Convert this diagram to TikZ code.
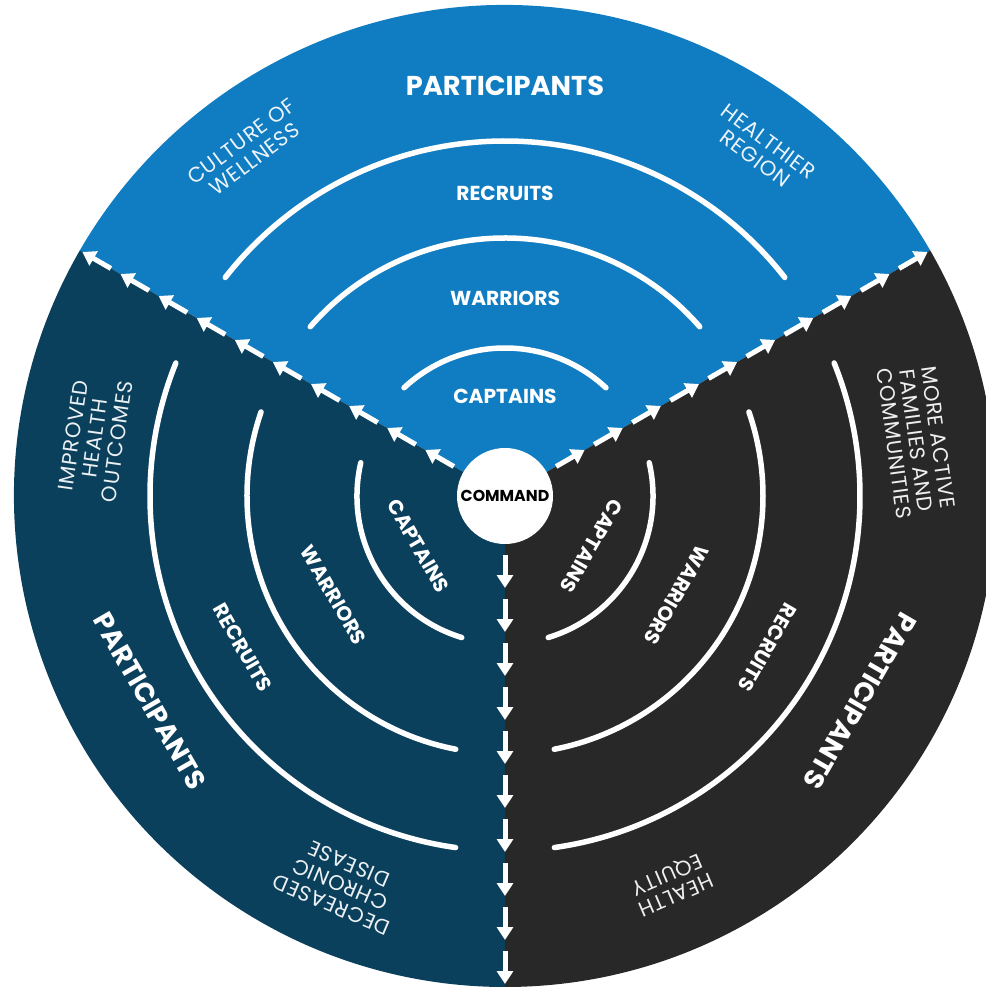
\documentclass[tikz,border=0pt]{standalone}
\usepackage{fontspec}
\setmainfont{Poppins}
\usetikzlibrary{arrows.meta}

\definecolor{wellblue}{RGB}{16,124,193}
\definecolor{wellteal}{RGB}{11,64,93}
\definecolor{wellgray}{RGB}{40,40,40}

\tikzset{
    ring/.style={white, line width=1.1mm, line cap=round},
    flow/.style={white, line width=1mm, -{Triangle[length=2.6mm,width=3.2mm]}},
    tier/.style={text=white, font=\bfseries\fontsize{11.5}{13}\selectfont},
    crowd/.style={text=white, font=\bfseries\fontsize{15.5}{17}\selectfont},
    goal/.style={text=white, text opacity=0.92, align=center,
        font=\fontsize{12}{12.6}\selectfont\addfontfeature{LetterSpace=4}},
    hub/.style={circle, fill=white, minimum size=19.2mm, inner sep=0pt,
        font=\bfseries\fontsize{9}{10}\selectfont}
}

\begin{document}
\begin{tikzpicture}[x=0.2mm, y=0.2mm]
    \useasboundingbox (-505,-491) rectangle (480,496);
    \coordinate (O) at (0,0);

    %sectors
    \fill[wellblue] (O) -- (30:491) arc (30:150:491) -- cycle;
    \fill[wellteal] (O) -- (150:491) arc (150:270:491) -- cycle;
    \fill[wellgray] (O) -- (270:491) arc (270:390:491) -- cycle;

    %rings and tiers
    \foreach \a/\r/\s in {90/0/t, 210/300/l, 330/240/r}
    {
        \draw[ring] ({\a-52}:355) arc ({\a-52}:{\a+52}:355);
        \draw[ring] ({\a-49}:258) arc ({\a-49}:{\a+49}:258);
        \draw[ring] ({\a-43}:148) arc ({\a-43}:{\a+43}:148);
        \node[tier, rotate=\r] (captains-\s) at (\a:100) {CAPTAINS};
        \node[tier, rotate=\r] (warriors-\s) at (\a:198) {WARRIORS};
        \node[tier, rotate=\r] (recruits-\s) at (\a:303) {RECRUITS};
        \node[crowd, rotate=\r] (participants-\s) at (\a:410) {PARTICIPANTS};
    }

    %outcomes
    \node[goal, rotate=36.6] (culture) at (126.6:431) {CULTURE OF\\WELLNESS};
    \node[goal, rotate=-36.6] (region) at (53.4:431) {HEALTHIER\\REGION};
    \node[goal, rotate=82] (improved) at (172:414) {IMPROVED\\HEALTH\\OUTCOMES};
    \node[goal, rotate=157] (decreased) at (247:422) {DECREASED\\CHRONIC\\DISEASE};
    \node[goal, rotate=-82.3] (active) at (7.7:415) {MORE ACTIVE\\FAMILIES AND\\COMMUNITIES};
    \node[goal, rotate=203.2] (equity) at (293.2:422) {HEALTH\\EQUITY};

    %dashed arrows between sectors
    \foreach \a in {30,150,270}
    {
        \foreach \k in {0,...,9}
        {
            \draw[flow] (\a:{59+44*\k}) -- (\a:{92+44*\k});
        }
    }

    \node[hub] (command) at (O) {COMMAND};
\end{tikzpicture}
\end{document}
